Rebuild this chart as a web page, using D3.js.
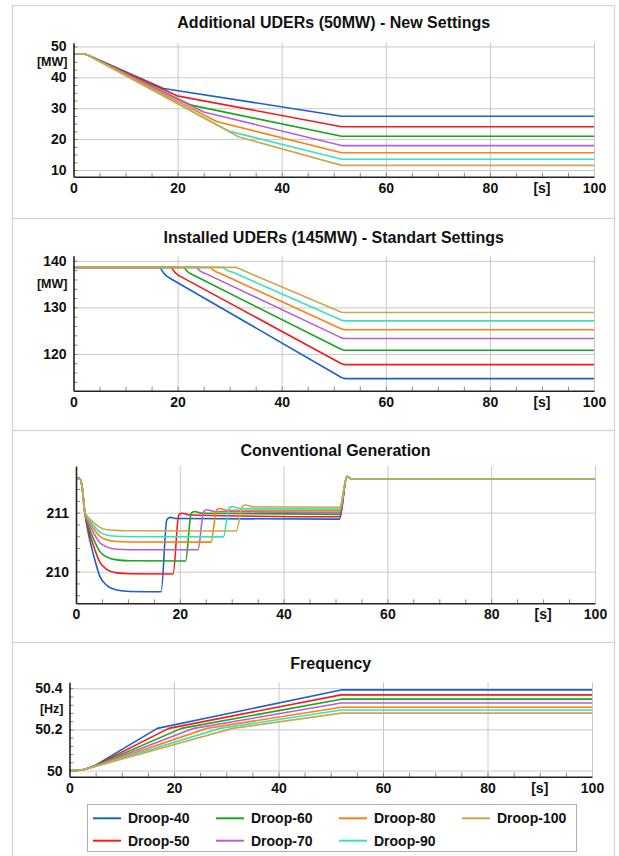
<!DOCTYPE html>
<html><head><meta charset="utf-8">
<script src="https://cdn.jsdelivr.net/npm/d3@7"></script>
<style>
body{margin:0;background:#fff}
svg{display:block;font-family:"Liberation Sans",Arial,Helvetica,sans-serif}
</style>
</head><body>
<svg id="chart" width="619" height="856"></svg>
<script>
// ---------------- DATA ----------------
const seriesNames = ["Droop-40","Droop-50","Droop-60","Droop-70","Droop-80","Droop-90","Droop-100"];
const seriesColors = ["#1f5fcc","#ee1c1c","#1aa51a","#b65fd0","#ff7f0f","#3ce0c0","#c8a850"];

const titles = ["Additional UDERs (50MW) - New Settings","Installed UDERs (145MW) - Standart Settings","Conventional Generation","Frequency"];
const yUnits = ["[MW]","[MW]","","[Hz]"];
const xUnit = "[s]";
const xTicks = [0,20,40,60,80,100];
const xDomain = [0,100];

const yTicksNew = [10,20,30,40,50];
const yTicksStd = [120,130,140];
const yTicksConv = [210,211];
const yTicksFreq = [50,50.2,50.4];
const yTickLabelsFreq = ["50","50.2","50.4"];

const yDomainNew = [7.83,51.2];
const yDomainStd = [112.1,141.1];
const yDomainConv = [209.464,211.79];
const yDomainFreq = [49.970,50.429];

// Additional UDERs (50MW) - New Settings  [t (s), MW]
const udersNew = [
  [[0,47.6],[1.8,47.6],[2.6,47.3],[17.3,36.4],[51.5,27.4],[100,27.4]],
  [[0,47.6],[1.8,47.6],[2.6,47.3],[19.9,34.0],[51.5,24.0],[100,24.0]],
  [[0,47.6],[1.8,47.6],[2.6,47.3],[22.6,31.0],[51.5,20.9],[100,20.9]],
  [[0,47.6],[1.8,47.6],[2.6,47.3],[25.0,28.8],[51.5,17.9],[100,17.9]],
  [[0,47.6],[1.8,47.6],[2.6,47.3],[27.5,25.7],[51.5,15.6],[100,15.6]],
  [[0,47.6],[1.8,47.6],[2.6,47.3],[30.0,22.5],[51.5,13.5],[100,13.5]],
  [[0,47.6],[1.8,47.6],[2.6,47.3],[31.8,20.7],[51.5,11.5],[100,11.5]]
];

// Installed UDERs (145MW) - Standart Settings  [t (s), MW]
const udersStd = [
  [[0,138.6],[16.6,138.6],[16.9,138.1],[17.3,137.4],[17.9,136.7],[18.6,136.2],[51.4,115.0],[51.9,114.75],[52.4,114.7],[100,114.7]],
  [[0,138.6],[18.8,138.6],[19.1,138.1],[19.5,137.5],[20.1,136.9],[20.8,136.5],[51.4,117.95],[51.9,117.75],[52.4,117.7],[100,117.7]],
  [[0,138.6],[21.2,138.6],[21.5,138.2],[21.9,137.7],[22.5,137.2],[23.1,136.9],[51.4,121.0],[51.9,120.82],[52.4,120.8],[100,120.8]],
  [[0,138.6],[23.6,138.6],[23.9,138.25],[24.3,137.85],[24.9,137.45],[25.5,137.2],[51.4,123.5],[51.9,123.33],[52.4,123.3],[100,123.3]],
  [[0,138.6],[26.2,138.6],[26.5,138.3],[26.9,137.95],[27.5,137.6],[28.1,137.35],[51.4,125.4],[51.9,125.23],[52.4,125.2],[100,125.2]],
  [[0,138.6],[28.7,138.6],[29.0,138.35],[29.4,138.05],[30.0,137.75],[30.6,137.55],[51.4,127.3],[51.9,127.13],[52.4,127.1],[100,127.1]],
  [[0,138.6],[31.2,138.6],[51.5,128.95],[52.0,128.9],[100,128.9]]
];

// Conventional Generation [t (s), MW]
const convGen = [
  [[0,211.57],[0.8,211.57],[1.2,211.42],[1.7,211.0],[2.5,210.6],[3.3,210.31],[4.6,209.92],[5.9,209.77],[7.8,209.69],[10.5,209.665],[16.4,209.66],[17.5,210.88],[18.1,210.92],[19.5,210.9],[50.8,210.89],[52.2,211.61],[53.2,211.57],[100,211.57]],
  [[0,211.57],[0.8,211.57],[1.2,211.42],[1.7,211.0],[2.5,210.69],[3.3,210.46],[4.6,210.16],[5.9,210.04],[7.8,209.98],[10.5,209.965],[18.7,209.96],[19.8,210.96],[20.4,210.99],[21.8,210.96],[50.8,210.93],[52.2,211.61],[53.2,211.57],[100,211.57]],
  [[0,211.57],[0.8,211.57],[1.2,211.42],[1.7,211.0],[2.5,210.75],[3.3,210.57],[4.6,210.34],[5.9,210.25],[7.8,210.2],[10.5,210.185],[21.1,210.18],[22.2,210.99],[22.8,211.02],[24.2,210.99],[50.8,210.97],[52.2,211.61],[53.2,211.57],[100,211.57]],
  [[0,211.57],[0.8,211.57],[1.2,211.42],[1.7,211.0],[2.5,210.81],[3.3,210.67],[4.6,210.49],[5.9,210.42],[7.8,210.38],[10.5,210.372],[23.5,210.37],[24.6,211.02],[25.2,211.05],[26.6,211.02],[50.8,211.0],[52.2,211.61],[53.2,211.57],[100,211.57]],
  [[0,211.57],[0.8,211.57],[1.2,211.42],[1.7,211.0],[2.5,210.85],[3.3,210.74],[4.6,210.6],[5.9,210.54],[7.8,210.51],[10.5,210.502],[26.0,210.5],[27.1,211.05],[27.7,211.07],[29.1,211.04],[50.8,211.03],[52.2,211.61],[53.2,211.57],[100,211.57]],
  [[0,211.57],[0.8,211.57],[1.2,211.42],[1.7,211.0],[2.5,210.88],[3.3,210.79],[4.6,210.67],[5.9,210.62],[7.8,210.6],[10.5,210.592],[28.4,210.59],[29.5,211.08],[30.1,211.1],[31.5,211.07],[50.8,211.06],[52.2,211.61],[53.2,211.57],[100,211.57]],
  [[0,211.57],[0.8,211.57],[1.2,211.42],[1.7,211.0],[2.5,210.91],[3.3,210.84],[4.6,210.75],[5.9,210.71],[7.8,210.7],[10.5,210.692],[30.9,210.69],[32.0,211.1],[32.6,211.13],[34.0,211.1],[50.8,211.09],[52.2,211.61],[53.2,211.57],[100,211.57]]
];

// Frequency [t (s), Hz]
const frequency = [
  [[0,50],[1.5,50],[2.5,50.004],[3.5,50.011],[5,50.026],[16.8,50.205],[52,50.392],[100,50.392]],
  [[0,50],[1.5,50],[2.5,50.004],[3.5,50.011],[5,50.025],[19.0,50.205],[52,50.368],[100,50.368]],
  [[0,50],[1.5,50],[2.5,50.004],[3.5,50.010],[5,50.024],[21.4,50.205],[52,50.347],[100,50.347]],
  [[0,50],[1.5,50],[2.5,50.004],[3.5,50.010],[5,50.023],[23.8,50.205],[52,50.328],[100,50.328]],
  [[0,50],[1.5,50],[2.5,50.004],[3.5,50.010],[5,50.022],[26.3,50.205],[52,50.308],[100,50.308]],
  [[0,50],[1.5,50],[2.5,50.004],[3.5,50.010],[5,50.021],[28.8,50.205],[52,50.294],[100,50.294]],
  [[0,50],[1.5,50],[2.5,50.004],[3.5,50.010],[5,50.020],[31.2,50.205],[52,50.279],[100,50.279]]
];

// ---------------- LAYOUT ----------------
const panels = [
  {data: udersNew, title: titles[0], unit: yUnits[0], yTicks: yTicksNew, yLabels: yTicksNew.map(String), yDomain: yDomainNew,
   box:[12,5,614,218], xr:[73.5,594], yr:[176.7,42.7], titleY:22.5, unitY:62, minor:2.5, curve:d3.curveLinear},
  {data: udersStd, title: titles[1], unit: yUnits[1], yTicks: yTicksStd, yLabels: yTicksStd.map(String), yDomain: yDomainStd,
   box:[12,218,614,430], xr:[73.5,594], yr:[390.7,255.7], titleY:237, unitY:284, minor:2, curve:d3.curveLinear},
  {data: convGen, title: titles[2], unit: yUnits[2], yTicks: yTicksConv, yLabels: yTicksConv.map(String), yDomain: yDomainConv,
   box:[12,430,614,642], xr:[76,595], yr:[603.3,466], titleY:450, unitY:0, minor:0.2, curve:d3.curveMonotoneX},
  {data: frequency, title: titles[3], unit: yUnits[3], yTicks: yTicksFreq, yLabels: yTickLabelsFreq, yDomain: yDomainFreq,
   box:[12,642,614,870], xr:[69.5,592], yr:[776.7,682.3], titleY:663, unitY:708.5, minor:0.04, curve:d3.curveLinear}
];

const svg = d3.select("#chart");
svg.append("rect").attr("width",619).attr("height",856).attr("fill","#fff");

panels.forEach(p => {
  const g = svg.append("g");
  g.append("rect").attr("x",p.box[0]+0.5).attr("y",p.box[1]+0.5)
    .attr("width",p.box[2]-p.box[0]).attr("height",p.box[3]-p.box[1])
    .attr("fill","none").attr("stroke","#d4d4d4").attr("stroke-width",1.2);

  const x = d3.scaleLinear().domain(xDomain).range(p.xr);
  const y = d3.scaleLinear().domain(p.yDomain).range(p.yr);
  const top = p.yr[1], bottom = p.yr[0], left = p.xr[0], right = p.xr[1];

  // title
  g.append("text").attr("x",(left+right)/2).attr("y",p.titleY).attr("dy","0.35em")
    .attr("text-anchor","middle").attr("font-size",16).attr("font-weight","bold").attr("fill","#111")
    .text(p.title);

  // grid
  const gx = g.append("g").attr("transform",`translate(0,${bottom})`)
    .call(d3.axisBottom(x).tickValues(xTicks.filter(t=>t>0)).tickSize(-(bottom-top)).tickFormat(""));
  gx.select(".domain").remove();
  gx.selectAll("line").attr("stroke","#c8c8c8").attr("stroke-width",1);
  const gy = g.append("g").attr("transform",`translate(${left},0)`)
    .call(d3.axisLeft(y).tickValues(p.yTicks).tickSize(-(right-left)).tickFormat(""));
  gy.select(".domain").remove();
  gy.selectAll("line").attr("stroke","#c8c8c8").attr("stroke-width",1);

  // minor ticks
  const mx = g.append("g").attr("transform",`translate(0,${bottom})`)
    .call(d3.axisBottom(x).tickValues(d3.range(5,100,5)).tickSize(-4).tickFormat(""));
  mx.select(".domain").remove();
  mx.selectAll("line").attr("stroke","#888");
  const k0 = Math.ceil(p.yDomain[0]/p.minor - 1e-6), k1 = Math.floor(p.yDomain[1]/p.minor + 1e-6);
  const yMinor = d3.range(k0,k1+1).map(k => +(k*p.minor).toFixed(4));
  const my = g.append("g").attr("transform",`translate(${left},0)`)
    .call(d3.axisLeft(y).tickValues(yMinor).tickSize(-4).tickFormat(""));
  my.select(".domain").remove();
  my.selectAll("line").attr("stroke","#888");

  // series
  const line = d3.line().x(d=>x(d[0])).y(d=>y(d[1])).curve(p.curve);
  p.data.forEach((s,i) => {
    g.append("path").attr("d",line(s)).attr("fill","none")
      .attr("stroke",seriesColors[i]).attr("stroke-width",1.6).attr("stroke-linejoin","round");
  });

  // axes with labels
  const ax = g.append("g").attr("transform",`translate(0,${bottom})`)
    .call(d3.axisBottom(x).tickValues(xTicks).tickSize(0).tickPadding(6));
  ax.select(".domain").attr("stroke","#222").attr("stroke-width",1.6);
  ax.selectAll("text").attr("font-size",14).attr("font-weight","bold").attr("fill","#111")
    .attr("font-family","'Liberation Sans',Arial,sans-serif");
  g.append("text").attr("x",x(90)).attr("y",bottom+6).attr("dy","0.71em")
    .attr("text-anchor","middle").attr("font-size",14).attr("font-weight","bold").attr("fill","#111")
    .text(xUnit);

  const ay = g.append("g").attr("transform",`translate(${left},0)`)
    .call(d3.axisLeft(y).tickValues(p.yTicks).tickFormat((d,i)=>p.yLabels[i]).tickSize(0).tickPadding(7));
  ay.select(".domain").attr("stroke","#222").attr("stroke-width",1.6);
  ay.selectAll("text").attr("font-size",14).attr("font-weight","bold").attr("fill","#111")
    .attr("font-family","'Liberation Sans',Arial,sans-serif");
  if (p.unit) {
    g.append("text").attr("x",left-6).attr("y",p.unitY).attr("dy","0.35em")
      .attr("text-anchor","end").attr("font-size",12.5).attr("font-weight","bold").attr("fill","#111")
      .text(p.unit);
  }
});

// legend
const lg = svg.append("g");
lg.append("rect").attr("x",87.5).attr("y",804.5).attr("width",489).attr("height",47)
  .attr("fill","#fff").attr("stroke","#b0b0b0").attr("stroke-width",1);
seriesNames.forEach((n,i) => {
  const col = Math.floor(i/2), row = i%2;
  const lx = 93 + col*123, ly = row ? 840.7 : 818.3;
  lg.append("line").attr("x1",lx).attr("x2",lx+28).attr("y1",ly).attr("y2",ly)
    .attr("stroke",seriesColors[i]).attr("stroke-width",2);
  lg.append("text").attr("x",lx+35).attr("y",ly).attr("dy","0.35em")
    .attr("font-size",14).attr("font-weight","bold").attr("fill","#111").text(n);
});
</script>
</body></html>
